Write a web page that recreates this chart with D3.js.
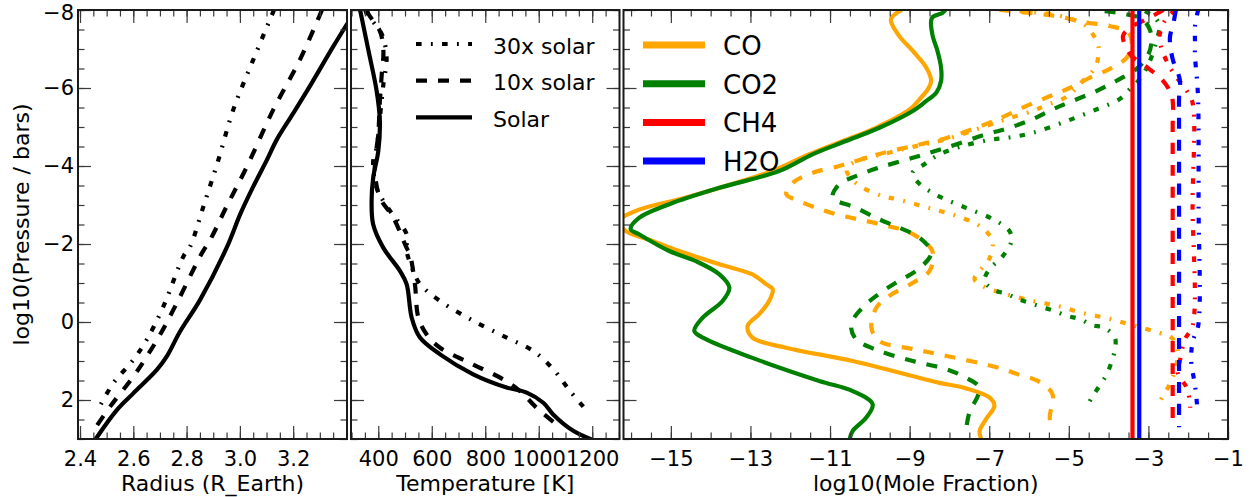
<!DOCTYPE html>
<html>
<head>
<meta charset="utf-8">
<script src="https://cdn.jsdelivr.net/npm/d3@7"></script>
<style>
  body { margin: 0; background: #fff; }
  svg { display: block; }
  text { font-family: "DejaVu Sans", sans-serif; fill: #000; }
</style>
</head>
<body>
<svg id="chart" width="1256" height="497"></svg>
<script>
// ---------- tick values ----------
const pressureTicks = [-8, -6, -4, -2, 0, 2];
const radiusTicks = [2.4, 2.6, 2.8, 3.0, 3.2];
const tempTicks = [400, 600, 800, 1000, 1200];
const fracTicks = [-15, -13, -11, -9, -7, -5, -3, -1];

const metallicityNames = ["30x solar", "10x solar", "Solar"];
const speciesNames = ["CO", "CO2", "CH4", "H2O"];

// ---------- radius profiles: [log10 P, radius (R_Earth)] ----------
const radiusSolar = [[-8.0,3.435],[-7.06,3.350],[-6.12,3.269],[-5.35,3.200],[-4.67,3.138],[-4.15,3.101],[-3.47,3.050],[-2.79,3.003],[-1.90,2.950],[-0.56,2.850],[0.25,2.775],[0.89,2.725],[1.23,2.688],[1.83,2.600],[2.26,2.538],[3.03,2.456]];
const radius10x = [[-8.0,3.308],[-6.72,3.225],[-5.44,3.125],[-3.98,3.026],[-2.96,2.950],[-2.10,2.888],[-1.76,2.857],[-0.48,2.763],[0.33,2.700],[0.89,2.650],[1.40,2.600],[2.17,2.513],[2.73,2.456]];
const radius30x = [[-8.0,3.128],[-6.72,3.050],[-5.44,2.975],[-4.15,2.919],[-2.96,2.863],[-1.93,2.813],[-1.68,2.788],[-0.40,2.713],[0.46,2.650],[0.97,2.600],[1.57,2.525],[2.15,2.475]];

// ---------- temperature profiles: [log10 P, T (K)] ----------
const tempSolar = [[-8.0,332],[-6.97,363],[-5.92,394],[-5.15,406],[-4.38,400],[-3.70,381],[-3.10,375],[-2.50,381],[-1.90,419],[-1.31,481],[-0.97,506],[-0.11,525],[0.40,556],[0.83,631],[1.34,755],[1.68,880],[1.81,955],[2.07,1017],[2.37,1054],[2.79,1129],[3.03,1204]];
const temp10x = [[-8.0,358],[-7.9,363],[-7.46,406],[-6.97,419],[-6.35,413],[-5.67,406],[-4.82,400],[-4.13,388],[-3.79,388],[-3.19,406],[-2.68,456],[-1.90,506],[-1.74,518],[-0.97,537],[-0.11,550],[0.32,581],[0.66,631],[1.09,755],[1.47,867],[1.77,930],[2.20,992],[2.70,1080]];
const temp30x = [[-8.0,352],[-7.9,357],[-7.38,413],[-6.78,431],[-6.09,419],[-5.24,406],[-4.47,394],[-4.13,381],[-3.44,394],[-2.85,444],[-2.25,506],[-1.82,506],[-1.31,531],[-0.97,556],[-0.54,631],[-0.03,755],[0.40,880],[0.74,979],[1.21,1054],[1.77,1117],[2.22,1173]];

// ---------- mole fractions: [log10 P, log10 X] ----------
const coSolar = [[-8.0,-9.2],[-7.76,-9.47],[-7.33,-9.26],[-6.95,-8.92],[-6.52,-8.58],[-6.18,-8.46],[-5.97,-8.54],[-5.71,-8.75],[-5.45,-9.0],[-4.98,-9.85],[-4.64,-10.68],[-4.30,-11.52],[-3.87,-12.45],[-3.70,-12.95],[-3.19,-14.62],[-2.85,-15.88],[-2.59,-16.3],[-2.33,-16.13],[-2.08,-15.46],[-1.82,-14.79],[-1.48,-13.78],[-1.22,-12.95],[-0.97,-12.61],[-0.84,-12.44],[-0.54,-12.53],[-0.20,-12.78],[0.10,-13.07],[0.40,-12.95],[0.66,-12.11],[1.00,-10.43],[1.56,-8.25],[1.68,-7.66],[1.94,-6.99],[2.15,-6.87],[2.49,-7.08],[2.79,-7.24],[3.01,-7.20]];
const co2Solar = [[-8.0,-8.10],[-7.93,-8.17],[-7.82,-8.42],[-7.72,-8.46],[-7.33,-8.42],[-6.95,-8.30],[-6.52,-8.21],[-6.18,-8.21],[-5.88,-8.33],[-5.67,-8.58],[-5.41,-8.92],[-4.98,-9.76],[-4.64,-10.60],[-4.30,-11.44],[-3.87,-12.28],[-3.44,-13.78],[-3.02,-15.04],[-2.67,-15.80],[-2.38,-16.01],[-2.25,-15.80],[-1.82,-15.04],[-1.56,-14.37],[-1.22,-13.78],[-0.88,-13.53],[-0.54,-13.70],[-0.11,-14.20],[0.23,-14.41],[0.44,-14.12],[0.92,-12.95],[1.51,-11.27],[1.77,-10.43],[2.11,-9.93],[2.45,-10.09],[2.79,-10.43],[3.01,-10.51]];
const ch4Solar = [[-8.0,-3.40],[3.0,-3.40]];
const h2oSolar = [[-8.0,-3.23],[3.0,-3.23]];

const co10x = [[-8.0,-6.74],[-7.9,-5.74],[-7.82,-5.18],[-7.69,-4.65],[-7.59,-3.97],[-7.41,-3.5],[-7.08,-3.42],[-6.77,-3.55],[-6.49,-3.97],[-6.26,-4.48],[-6.0,-4.98],[-5.79,-5.48],[-5.54,-6.06],[-5.28,-6.61],[-5.08,-7.07],[-4.72,-8.07],[-4.51,-8.93],[-4.31,-9.76],[-4.13,-10.34],[-4.0,-10.77],[-3.82,-11.45],[-3.56,-11.95],[-3.28,-12.10],[-3.10,-11.77],[-2.79,-10.94],[-2.51,-9.76],[-2.26,-8.93],[-1.82,-8.43],[-1.31,-8.50],[-1.0,-8.93],[-0.67,-9.51],[-0.36,-9.84],[0.15,-9.96],[0.49,-9.76],[0.69,-8.93],[0.87,-8.07],[1.18,-6.74],[1.33,-6.31],[1.51,-5.78],[1.85,-5.41],[2.46,-5.48],[2.74,-5.41]];
const co210x = [[-7.97,-4.10],[-7.90,-3.59],[-7.77,-3.16],[-7.51,-2.97],[-7.21,-2.92],[-6.82,-3.02],[-6.49,-3.30],[-6.18,-3.81],[-5.92,-4.31],[-5.67,-4.90],[-5.45,-5.41],[-5.20,-5.91],[-4.98,-6.49],[-4.81,-7.08],[-4.47,-8.08],[-4.21,-8.92],[-3.96,-9.76],[-3.74,-10.35],[-3.53,-10.77],[-3.19,-10.93],[-2.93,-10.35],[-2.63,-9.76],[-2.42,-9.26],[-2.16,-8.75],[-1.82,-8.46],[-1.65,-8.50],[-1.31,-8.84],[-1.01,-9.34],[-0.67,-9.84],[-0.33,-10.22],[0.06,-10.47],[0.44,-10.35],[0.74,-9.76],[1.0,-8.92],[1.21,-8.08],[1.43,-7.58],[1.68,-7.24],[1.90,-7.29],[2.33,-7.50],[2.75,-7.58]];
const ch410x = [[-8.0,-2.62],[-7.74,-3.09],[-7.54,-3.47],[-7.33,-3.64],[-7.03,-3.55],[-6.82,-3.42],[-6.51,-3.01],[-6.23,-2.67],[-5.92,-2.46],[-5.67,-2.39],[-5.0,-2.39],[2.7,-2.39]];
const h2o10x = [[-8.0,-2.31],[-7.72,-2.36],[-7.28,-2.46],[-6.74,-2.39],[-6.21,-2.21],[-5.74,-2.23],[-5.0,-2.23],[2.7,-2.23]];

const co30x = [[-7.97,-6.24],[-7.90,-5.48],[-7.77,-4.93],[-7.62,-4.60],[-7.41,-4.42],[-7.13,-4.27],[-6.87,-4.25],[-6.51,-4.35],[-6.10,-4.73],[-5.79,-5.03],[-5.54,-5.61],[-5.41,-5.91],[-5.23,-6.49],[-5.03,-7.07],[-4.69,-8.07],[-4.49,-8.93],[-4.28,-9.76],[-4.13,-10.34],[-3.92,-10.59],[-3.67,-10.46],[-3.46,-10.21],[-3.23,-9.68],[-3.15,-9.33],[-2.92,-8.50],[-2.67,-7.67],[-2.41,-7.17],[-2.08,-6.92],[-1.64,-6.99],[-1.31,-7.24],[-1.10,-7.37],[-0.90,-7.12],[-0.72,-6.59],[-0.54,-5.91],[-0.41,-5.28],[-0.23,-4.65],[-0.08,-3.97],[0.10,-3.34],[0.28,-2.71],[0.41,-2.41],[0.74,-2.26],[1.26,-2.34],[1.59,-2.46],[1.90,-2.64],[2.21,-2.79]];
const co230x = [[-7.97,-3.09],[-7.82,-2.85],[-7.59,-2.72],[-7.31,-2.77],[-6.95,-2.87],[-6.56,-3.02],[-6.23,-3.22],[-5.97,-3.47],[-5.72,-3.72],[-5.45,-4.31],[-5.15,-5.06],[-4.85,-5.91],[-4.73,-6.49],[-4.67,-6.99],[-4.49,-7.75],[-4.26,-8.32],[-4.05,-8.62],[-3.82,-8.93],[-3.54,-8.75],[-3.31,-8.42],[-3.18,-8.17],[-2.92,-7.57],[-2.64,-6.91],[-2.33,-6.49],[-2.08,-6.44],[-1.69,-6.66],[-1.36,-6.99],[-1.05,-7.12],[-0.82,-6.87],[-0.72,-6.56],[-0.59,-6.28],[-0.49,-5.99],[-0.38,-5.66],[-0.28,-5.35],[-0.15,-5.03],[-0.08,-4.73],[0.08,-4.42],[0.15,-4.10],[0.41,-3.84],[0.69,-3.84],[1.0,-3.92],[1.33,-4.04],[1.64,-4.23],[1.90,-4.40],[2.18,-4.55]];
const ch430x = [[-8.0,-2.33],[-7.72,-2.59],[-7.33,-2.72],[-7.0,-2.67],[-6.69,-2.54],[-6.38,-2.37],[-5.92,-2.03],[-5.62,-1.89],[-3.0,-1.89],[0.10,-1.89],[0.44,-2.08],[1.0,-2.21],[1.31,-2.26],[1.68,-2.04],[2.03,-1.96],[2.2,-1.95]];
const h2o30x = [[-8.0,-1.75],[-7.59,-1.83],[-7.21,-1.83],[-6.82,-1.83],[-6.23,-1.78],[-5.67,-1.75],[-3.0,-1.74],[0.10,-1.75],[0.44,-1.87],[0.74,-1.92],[1.08,-1.92],[1.44,-1.86],[1.77,-1.81],[2.10,-1.78],[2.2,-1.77]];

// ---------- styling ----------
const speciesColors = ["#FFA500", "#008000", "#FF0000", "#0000FF"];
const dashPatterns = ["5.6,9.3,1.85,9.3", "11,11", null]; // 30x, 10x, solar
const lineWidth = 4.2;

// ---------- layout ----------
const svg = d3.select("#chart");
const plotTop = 10, plotBottom = 439;
const y = d3.scaleLinear().domain([-8, 3]).range([plotTop, plotBottom]);

const panels = [
  { x0: 78, x1: 347, domain: [2.3925, 3.402], ticks: radiusTicks, minorStep: 0.05, fmt: d3.format(".1f"), label: "Radius (R_Earth)" },
  { x0: 351, x1: 619.5, domain: [298, 1302], ticks: tempTicks, minorStep: 50, fmt: d3.format("d"), label: "Temperature [K]" },
  { x0: 623.5, x1: 1228, domain: [-16.19, -1], ticks: fracTicks, minorStep: 0.5, fmt: d3.format("d"), label: "log10(Mole Fraction)" }
];
panels.forEach(p => { p.x = d3.scaleLinear().domain(p.domain).range([p.x0, p.x1]); });

function minorValues(domain, step) {
  const i0 = Math.ceil(domain[0] / step - 1e-9), i1 = Math.floor(domain[1] / step + 1e-9);
  return d3.range(i0, i1 + 1).map(i => +(i * step).toFixed(6));
}
const pressureMinor = minorValues([-8, 3], 0.5);

const defs = svg.append("defs");
panels.forEach((p, i) => {
  defs.append("clipPath").attr("id", "clip" + i)
    .append("rect").attr("x", p.x0).attr("y", plotTop)
    .attr("width", p.x1 - p.x0).attr("height", plotBottom - plotTop);
});

function drawLine(g, p, data, color, dash, width) {
  const gen = d3.line()
    .x(d => p.x(d[1]))
    .y(d => y(d[0]))
    .curve(d3.curveCatmullRom.alpha(0.5));
  g.append("path")
    .attr("d", gen(data))
    .attr("fill", "none")
    .attr("stroke", color)
    .attr("stroke-width", width)
    .attr("stroke-linejoin", "round")
    .attr("stroke-linecap", "butt")
    .attr("stroke-dasharray", dash);
}

// ---------- data lines ----------
const radiusSets = [radius30x, radius10x, radiusSolar];
const tempSets = [temp30x, temp10x, tempSolar];
const fracSets = [
  [co30x, co230x, ch430x, h2o30x],
  [co10x, co210x, ch410x, h2o10x],
  [coSolar, co2Solar, ch4Solar, h2oSolar]
];

const g0 = svg.append("g").attr("clip-path", "url(#clip0)");
radiusSets.forEach((d, m) => drawLine(g0, panels[0], d, "#000", dashPatterns[m], lineWidth));

const g1 = svg.append("g").attr("clip-path", "url(#clip1)");
tempSets.forEach((d, m) => drawLine(g1, panels[1], d, "#000", dashPatterns[m], lineWidth));

const g2 = svg.append("g").attr("clip-path", "url(#clip2)");
fracSets.forEach((set, m) => set.forEach((d, s) => drawLine(g2, panels[2], d, speciesColors[s], dashPatterns[m], lineWidth)));

// ---------- axes (inward ticks on all four sides) ----------
const majorLen = 13, minorLen = 6.5;
function styleAxis(sel) {
  sel.select(".domain").remove();
  sel.selectAll(".tick line").attr("stroke", "#3a3a3a").attr("stroke-width", 1.2);
  sel.selectAll(".tick text").attr("font-size", 21).attr("font-family", "DejaVu Sans").attr("fill", "#000");
}

panels.forEach((p, i) => {
  const xMinor = minorValues(p.domain, p.minorStep);
  const ax = svg.append("g");
  ax.append("g").attr("transform", `translate(0,${plotBottom})`)
    .call(d3.axisBottom(p.x).tickValues(xMinor).tickSize(-minorLen).tickFormat("")).call(styleAxis);
  ax.append("g").attr("transform", `translate(0,${plotBottom})`)
    .call(d3.axisBottom(p.x).tickValues(p.ticks).tickSize(-majorLen).tickPadding(12).tickFormat(p.fmt)).call(styleAxis);
  ax.append("g").attr("transform", `translate(0,${plotTop})`)
    .call(d3.axisTop(p.x).tickValues(xMinor).tickSize(-minorLen).tickFormat("")).call(styleAxis);
  ax.append("g").attr("transform", `translate(0,${plotTop})`)
    .call(d3.axisTop(p.x).tickValues(p.ticks).tickSize(-majorLen).tickFormat("")).call(styleAxis);
  ax.append("g").attr("transform", `translate(${p.x0},0)`)
    .call(d3.axisLeft(y).tickValues(pressureMinor).tickSize(-minorLen).tickFormat("")).call(styleAxis);
  const left = ax.append("g").attr("transform", `translate(${p.x0},0)`)
    .call(d3.axisLeft(y).tickValues(pressureTicks).tickSize(-majorLen).tickPadding(4)
      .tickFormat(i === 0 ? d3.format("d") : "")).call(styleAxis);
  // keep the top label inside the canvas
  left.selectAll(".tick").filter(d => d === -8).select("text").attr("y", 3);
  ax.append("g").attr("transform", `translate(${p.x1},0)`)
    .call(d3.axisRight(y).tickValues(pressureMinor).tickSize(-minorLen).tickFormat("")).call(styleAxis);
  ax.append("g").attr("transform", `translate(${p.x1},0)`)
    .call(d3.axisRight(y).tickValues(pressureTicks).tickSize(-majorLen).tickFormat("")).call(styleAxis);

  // frame
  svg.append("rect")
    .attr("x", p.x0).attr("y", plotTop)
    .attr("width", p.x1 - p.x0).attr("height", plotBottom - plotTop)
    .attr("fill", "none").attr("stroke", "#1a1a1a").attr("stroke-width", 2);

  // x label
  svg.append("text")
    .attr("x", (p.x0 + p.x1) / 2).attr("y", 490.5)
    .attr("text-anchor", "middle").attr("font-size", 22)
    .text(p.label);
});

// y label
svg.append("text")
  .attr("transform", `translate(29,${(plotTop + plotBottom) / 2}) rotate(-90)`)
  .attr("text-anchor", "middle").attr("font-size", 22)
  .text("log10(Pressure / bars)");

// ---------- legend: metallicity (temperature panel) ----------
const leg1 = svg.append("g");
metallicityNames.forEach((name, k) => {
  const ly = 44 + k * 36.7;
  leg1.append("line")
    .attr("x1", 416).attr("x2", 472).attr("y1", ly).attr("y2", ly)
    .attr("stroke", "#000").attr("stroke-width", lineWidth)
    .attr("stroke-dasharray", dashPatterns[k]);
  leg1.append("text")
    .attr("x", 493).attr("y", ly + 9.6)
    .attr("font-size", 22)
    .text(name);
});

// ---------- legend: species (mole fraction panel) ----------
const leg2 = svg.append("g");
speciesNames.forEach((name, k) => {
  const ly = 45 + k * 38.7;
  leg2.append("line")
    .attr("x1", 643).attr("x2", 705).attr("y1", ly).attr("y2", ly)
    .attr("stroke", speciesColors[k]).attr("stroke-width", 7);
  leg2.append("text")
    .attr("x", 723).attr("y", ly + 10)
    .attr("font-size", 26)
    .text(name);
});
</script>
</body>
</html>
